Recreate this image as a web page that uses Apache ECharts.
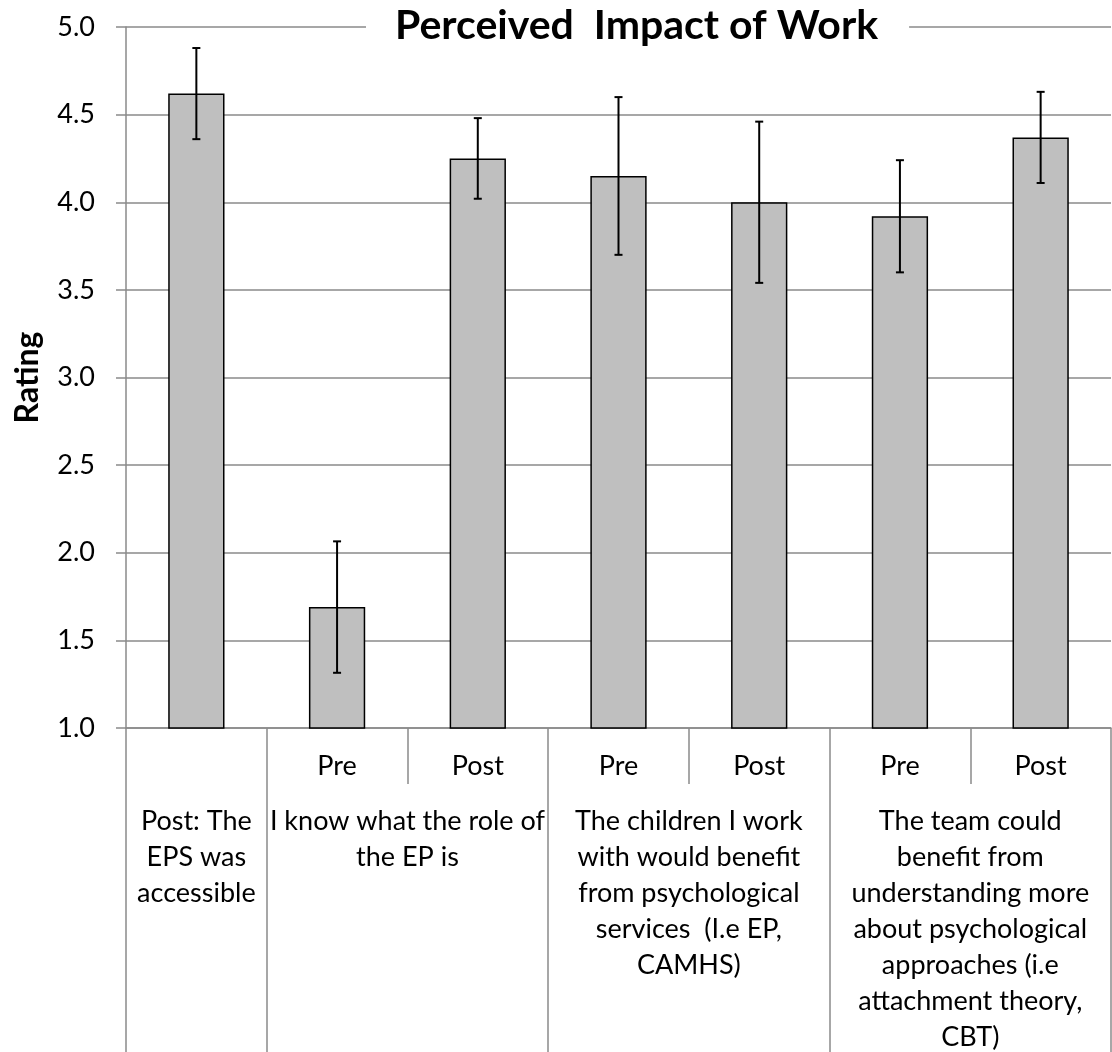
<!DOCTYPE html>
<html>
<head>
<meta charset="utf-8">
<script src="https://cdn.jsdelivr.net/npm/echarts@6/dist/echarts.min.js"></script>
<style>
html,body{margin:0;padding:0;background:#fff;}
#chart{width:1112px;height:1052px;}
</style>
</head>
<body>
<div id="chart"></div>
<script>
// ---- data ----
const titleText = 'Perceived  Impact of Work';
const yAxisTitle = 'Rating';
const subLabels = ['', 'Pre', 'Post', 'Pre', 'Post', 'Pre', 'Post'];
const groupLabels = [
  'Post: The\nEPS was\naccessible',
  'I know what the role of\nthe EP is',
  'The children I work\nwith would benefit\nfrom psychological\nservices  (I.e EP,\nCAMHS)',
  'The team could\nbenefit from\nunderstanding more\nabout psychological\napproaches (i.e\nattachment theory,\nCBT)'
];
const groupSizes = [1, 2, 2, 2];
const means = [4.62, 1.69, 4.25, 4.15, 4.00, 3.92, 4.37];
const errors = [0.26, 0.375, 0.23, 0.45, 0.46, 0.32, 0.26];
const yMin = 1.0, yMax = 5.0, yStep = 0.5;

// ---- derived ----
const boundaries = [0];
const centers = [];
groupSizes.forEach(function (s) {
  const start = boundaries[boundaries.length - 1];
  centers.push(start + s / 2);
  boundaries.push(start + s);
});
const errData = means.map(function (m, i) { return [i, m - errors[i], m + errors[i]]; });

const FONT = 'Lato';
const GRAY = '#8a8a8a';
const TITLE_FONT = 41;
const TITLE_LEFT = 366, TITLE_CENTER = 637, TITLE_RIGHT = 910;

// measure title text width to place it in the white box
const cv = document.createElement('canvas').getContext('2d');
cv.font = 'bold ' + TITLE_FONT + 'px ' + FONT;
const tw = cv.measureText(titleText).width;
const padL = Math.max(1, Math.round(TITLE_CENTER - tw / 2 - TITLE_LEFT));
const padR = Math.max(1, Math.round(TITLE_RIGHT - TITLE_CENTER - tw / 2));
const titleStyle = { fontFamily: FONT, fontWeight: 'bold', fontSize: TITLE_FONT, color: '#000', lineHeight: 46 };

const chart = echarts.init(document.getElementById('chart'), null, { renderer: 'canvas' });
chart.setOption({
  animation: false,
  backgroundColor: '#ffffff',
  title: {
    text: '{l| }{t|' + titleText + '}{r| }',
    left: TITLE_LEFT,
    top: 3,
    padding: 0,
    backgroundColor: '#ffffff',
    textStyle: Object.assign({}, titleStyle, {
      rich: {
        l: { width: padL, fontSize: 10, lineHeight: 46 },
        r: { width: padR, fontSize: 10, lineHeight: 46 },
        t: titleStyle
      }
    })
  },
  grid: { left: 126, right: 1, top: 27, bottom: 324, containLabel: false, outerBoundsMode: 'none' },
  xAxis: [
    {
      type: 'category',
      data: subLabels,
      boundaryGap: true,
      axisLine: { show: true, lineStyle: { color: GRAY, width: 1.5 } },
      axisTick: { show: true, interval: 0, length: 56, lineStyle: { color: GRAY, width: 1.5 } },
      axisLabel: { interval: 0, margin: 25, fontFamily: FONT, fontSize: 27, color: '#000' },
      splitLine: { show: false }
    },
    {
      type: 'value',
      min: 0,
      max: boundaries[boundaries.length - 1],
      position: 'bottom',
      axisLine: { show: false },
      splitLine: { show: false },
      axisTick: { show: true, customValues: boundaries, length: 324, lineStyle: { color: GRAY, width: 1.5 } },
      axisLabel: {
        customValues: centers,
        margin: 75,
        fontFamily: FONT, fontSize: 27, color: '#000', lineHeight: 36, align: 'center',
        formatter: function (v) {
          const i = centers.indexOf(v);
          return i >= 0 ? groupLabels[i] : '';
        }
      }
    }
  ],
  yAxis: {
    type: 'value',
    min: yMin, max: yMax, interval: yStep,
    name: yAxisTitle,
    nameLocation: 'middle',
    nameRotate: 90,
    nameGap: 82,
    nameTextStyle: { fontFamily: FONT, fontWeight: 'bold', fontSize: 32, color: '#000' },
    axisLine: { show: true, lineStyle: { color: GRAY, width: 1.5 } },
    axisTick: { show: true, length: 10, lineStyle: { color: GRAY, width: 1.5 } },
    axisLabel: { margin: 31, fontFamily: FONT, fontSize: 27, color: '#000', formatter: function (v) { return v.toFixed(1); } },
    splitLine: { show: true, lineStyle: { color: GRAY, width: 1.5 } }
  },
  series: [
    {
      type: 'bar',
      data: means,
      barWidth: '40%',
      itemStyle: { color: '#bfbfbf', borderColor: '#000', borderWidth: 1.5 }
    },
    {
      type: 'custom',
      data: errData,
      encode: { x: 0, y: [1, 2] },
      z: 10,
      renderItem: function (params, api) {
        const x = api.value(0);
        const lo = api.coord([x, api.value(1)]);
        const hi = api.coord([x, api.value(2)]);
        const hw = 4;
        const style = { stroke: '#000', lineWidth: 2 };
        return {
          type: 'group',
          children: [
            { type: 'line', shape: { x1: lo[0], y1: lo[1], x2: hi[0], y2: hi[1] }, style: style },
            { type: 'line', shape: { x1: hi[0] - hw, y1: hi[1], x2: hi[0] + hw, y2: hi[1] }, style: style },
            { type: 'line', shape: { x1: lo[0] - hw, y1: lo[1], x2: lo[0] + hw, y2: lo[1] }, style: style }
          ]
        };
      }
    }
  ]
});
</script>
</body>
</html>
